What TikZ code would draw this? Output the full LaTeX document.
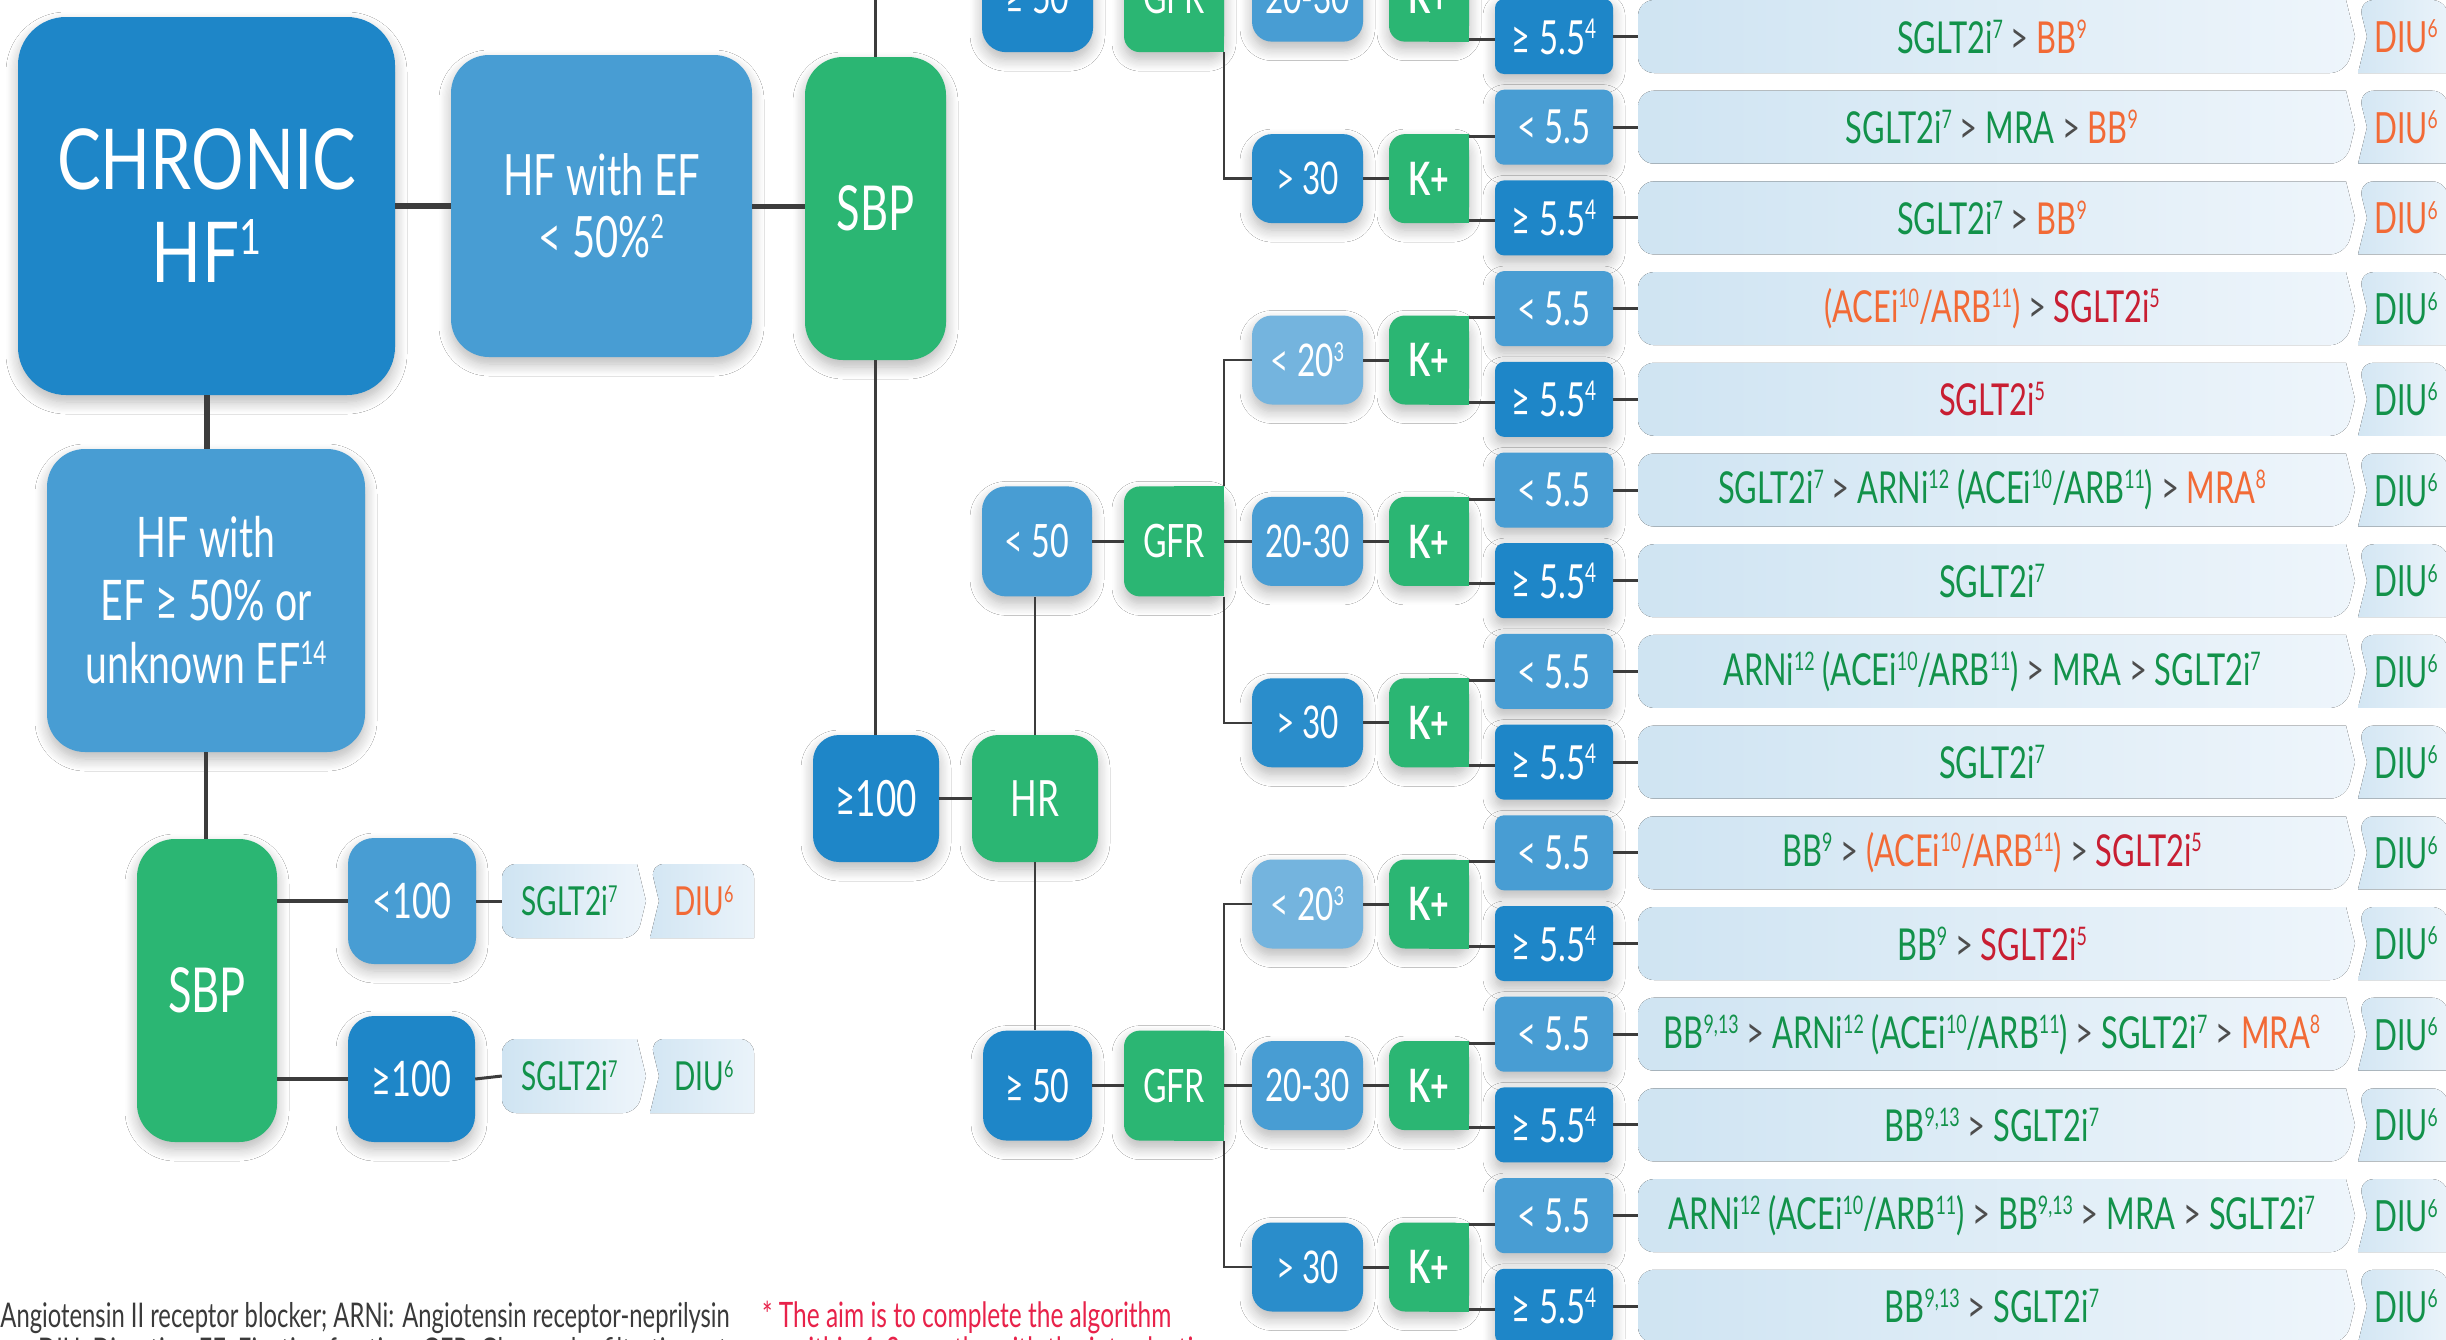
\documentclass[tikz,border=0pt]{standalone}
\usepackage{fontspec}
\usepackage{graphicx}
\setmainfont{Lato}[FakeStretch=0.7]
\newfontfamily\chronfont{Lato}[FakeStretch=0.78]
\usetikzlibrary{shadows.blur}
\definecolor{dblue}{HTML}{1E86C8}
\definecolor{mblue}{HTML}{489DD3}
\definecolor{lblue}{HTML}{74B4DE}
\definecolor{gblue}{HTML}{2A8DCB}
\definecolor{bgreen}{HTML}{2BB673}
\definecolor{tgreen}{HTML}{12924A}
\definecolor{torange}{HTML}{F26A36}
\definecolor{tred}{HTML}{C81E32}
\definecolor{tgrey}{HTML}{4D4D4D}
\definecolor{lnc}{HTML}{3C3C3C}
\definecolor{barl}{HTML}{CFE4F2}
\definecolor{barr}{HTML}{EEF5FB}
\definecolor{diul}{HTML}{D3E6F3}
\definecolor{diur}{HTML}{EAF3FA}
\definecolor{notered}{HTML}{E8224A}
\definecolor{notegrey}{HTML}{3A3A3A}
\newcommand\fsz[1]{\fontsize{#1}{#1}\selectfont}
\newcommand\sps[1]{\raisebox{0.34em}{\scalebox{0.58}{#1}}}
\newcommand\txg[1]{\textcolor{tgreen}{#1}}
\newcommand\txo[1]{\textcolor{torange}{#1}}
\newcommand\txr[1]{\textcolor{tred}{#1}}
\newcommand\gsep{\ \textcolor{tgrey}{>}\ }
\newcommand\restext[1]{\ifcase#1\or
\txg{SGLT2i\sps{7}}\gsep\txo{BB\sps{9}}\or
\txg{SGLT2i\sps{7}}\gsep\txg{MRA}\gsep\txo{BB\sps{9}}\or
\txg{SGLT2i\sps{7}}\gsep\txo{BB\sps{9}}\or
\txo{(ACEi\sps{10}/ARB\sps{11})}\gsep\txr{SGLT2i\sps{5}}\or
\txr{SGLT2i\sps{5}}\or
\txg{SGLT2i\sps{7}}\gsep\txg{ARNi\sps{12} (ACEi\sps{10}/ARB\sps{11})}\gsep\txo{MRA\sps{8}}\or
\txg{SGLT2i\sps{7}}\or
\txg{ARNi\sps{12} (ACEi\sps{10}/ARB\sps{11})}\gsep\txg{MRA}\gsep\txg{SGLT2i\sps{7}}\or
\txg{SGLT2i\sps{7}}\or
\txg{BB\sps{9}}\gsep\txo{(ACEi\sps{10}/ARB\sps{11})}\gsep\txr{SGLT2i\sps{5}}\or
\txg{BB\sps{9}}\gsep\txr{SGLT2i\sps{5}}\or
\txg{BB\sps{9,13}}\gsep\txg{ARNi\sps{12} (ACEi\sps{10}/ARB\sps{11})}\gsep\txg{SGLT2i\sps{7}}\gsep\txo{MRA\sps{8}}\or
\txg{BB\sps{9,13}}\gsep\txg{SGLT2i\sps{7}}\or
\txg{ARNi\sps{12} (ACEi\sps{10}/ARB\sps{11})}\gsep\txg{BB\sps{9,13}}\gsep\txg{MRA}\gsep\txg{SGLT2i\sps{7}}\or
\txg{BB\sps{9,13}}\gsep\txg{SGLT2i\sps{7}}\fi}
\tikzset{
 shad/.style={blur shadow={shadow blur steps=10, shadow xshift=0pt, shadow yshift=-7pt, shadow blur radius=12pt, shadow opacity=28}},
 bx/.style={rectangle, inner sep=0pt, text=white, align=center, shad},
 lbl/.style={rectangle, inner sep=0pt, text=white, align=center},
 conn/.style={draw=lnc, line width=3pt},
 vline/.style={draw=lnc, line width=2.5pt},
 heavy/.style={draw=lnc, line width=6pt},
 mid/.style={draw=lnc, line width=4pt},
}
\newcommand\boxat[7]{\node[bx,#2,minimum width={(#5)-(#3)},minimum height={(#6)-(#4)}] (#1) at ({((#3)+(#5))/2},{((#4)+(#6))/2}) {#7};}
\newcommand\lrbx[8]{%
 \node[bx,fill=#2,rounded corners=16,minimum width={(#5)-(#3)},minimum height={(#6)-(#4)}] at ({((#3)+(#5))/2},{((#4)+(#6))/2}) {};
 \fill[#2] ({((#3)+(#5))/2},{#4}) rectangle ({#5},{#6});
 \node[lbl,font=#7,minimum width={(#5)-(#3)},minimum height={(#6)-(#4)}] (#1) at ({((#3)+(#5))/2},{((#4)+(#6))/2}) {#8};}
\newcommand\cbox[4]{\node[bx,fill=#2,rounded corners=20,minimum width=111,minimum height=89,font=\fsz{45}] (#1) at (1307.5,{#3}) {#4};}
\newcommand\kbox[2]{\lrbx{#1}{bgreen}{1389}{#2-44.5}{1469}{#2+44.5}{\bfseries\fsz{46}}{K+}}
\newcommand\kconn[3]{\draw[conn] ([yshift=-2.5pt]#1.north east) -- ([yshift=-2.5pt]#1.north east -| #2.west);
 \draw[conn] ([yshift=2.5pt]#1.south east) -- ([yshift=2.5pt]#1.south east -| #3.west);}
\begin{document}
\begin{tikzpicture}[x=1pt,y=-1pt]
\useasboundingbox (0,0) rectangle (2446,1339);
\fill[white] (0,0) rectangle (2446,1339);
\clip (0,0) rectangle (2446,1339);
% result rows
\foreach \i/\y in {1/36.5,2/127.2,3/217.9,4/308.6,5/399.3,6/490.0,7/580.7,8/671.4,9/762.1,10/852.8,11/943.5,12/1034.2,13/1124.9,14/1215.6,15/1306.3}{
 \ifodd\i \def\thc{dblue}\def\tht{≥ 5.5\sps{4}}\else\def\thc{mblue}\def\tht{< 5.5}\fi
 \ifnum\i<4 \def\dc{torange}\else\def\dc{tgreen}\fi
 \fill[left color=barl,right color=barr] (2346,{\y-36.5}) [rounded corners=16] -- (1638,{\y-36.5}) -- (1638,{\y+36.5}) -- (2346,{\y+36.5}) [sharp corners] -- (2355,\y) -- cycle;
 \fill[left color=diul,right color=diur] (2448,\y) [rounded corners=16] -- (2448,{\y-36.5}) -- (2358,{\y-36.5}) [sharp corners] -- (2367,\y) -- (2358,{\y+36.5}) -- (2448,{\y+36.5}) [rounded corners=16] -- cycle;
 \node[lbl,minimum width=708,minimum height=73,font=\fsz{44}] (bar\i) at (1992,\y) {\restext{\i}};
 \node[lbl,font=\fsz{43},text=\dc] (diu\i) at (2406,\y) {DIU\sps{6}};
 \node[bx,fill=\thc,rounded corners=9,minimum width=118,minimum height=75,font=\fsz{47}] (th\i) at (1554,\y) {\tht};
 \draw[conn] (th\i.east) -- (bar\i.west);
}
% left part
\boxat{chronic}{fill=dblue,rounded corners=48,font=\chronfont\fontsize{84}{93}\selectfont}{18}{17}{395}{395}{CHRONIC\\HF\sps{1}}
\boxat{hfef}{fill=mblue,rounded corners=38,font=\fontsize{57}{62}\selectfont}{451}{55}{752}{357}{HF with EF\\< 50\%\sps{2}}
\boxat{sbpA}{fill=bgreen,rounded corners=38,font=\fsz{62}}{805}{57}{946}{360}{SBP}
\boxat{hfpef}{fill=mblue,rounded corners=38,font=\fontsize{56}{63}\selectfont}{47}{449}{365}{752}{HF with\\EF ≥ 50\% or\\unknown EF\sps{14}}
\boxat{sbpB}{fill=bgreen,rounded corners=38,font=\fsz{62}}{137}{839}{277}{1142}{SBP}
\boxat{ltH}{fill=mblue,rounded corners=26,font=\fsz{49}}{348}{838}{476}{964}{<100}
\boxat{geH}{fill=dblue,rounded corners=26,font=\fsz{49}}{348}{1016}{475}{1142}{≥100}
% small result bars
\fill[left color=barl,right color=barr] (637,864) [rounded corners=14] -- (502,864) -- (502,938) -- (637,938) [sharp corners] -- (646,901) -- cycle;
\fill[left color=diul,right color=diur] (754,901) [rounded corners=14] -- (754,864) -- (650,864) [sharp corners] -- (659,901) -- (650,938) -- (754,938) [rounded corners=14] -- cycle;
\node[lbl,minimum width=135,minimum height=74,font=\fsz{40}] (sa) at (569.5,901) {\txg{SGLT2i\sps{7}}};
\node[lbl,font=\fsz{40}] (da) at (704,901) {\txo{DIU\sps{6}}};
\fill[left color=barl,right color=barr] (637,1039) [rounded corners=14] -- (502,1039) -- (502,1113) -- (637,1113) [sharp corners] -- (646,1076) -- cycle;
\fill[left color=diul,right color=diur] (754,1076) [rounded corners=14] -- (754,1039) -- (650,1039) [sharp corners] -- (659,1076) -- (650,1113) -- (754,1113) [rounded corners=14] -- cycle;
\node[lbl,minimum width=135,minimum height=74,font=\fsz{40}] (sb) at (569.5,1076) {\txg{SGLT2i\sps{7}}};
\node[lbl,font=\fsz{40}] (db) at (704,1076) {\txg{DIU\sps{6}}};
% middle
\boxat{geM}{fill=dblue,rounded corners=26,font=\fsz{50}}{813}{735}{939}{862}{≥100}
\boxat{hr}{fill=bgreen,rounded corners=26,font=\fsz{50}}{972}{735}{1098}{862}{HR}
\boxat{ltF}{fill=mblue,rounded corners=24,font=\fsz{46}}{982}{486.4}{1092}{596.4}{< 50}
\boxat{geFb}{fill=dblue,rounded corners=24,font=\fsz{46}}{983}{1030.6}{1092}{1140.6}{≥ 50}
\boxat{geFt}{fill=dblue,rounded corners=24,font=\fsz{46}}{982}{-57.85}{1093}{52.15}{≥ 50}
\lrbx{gfrT}{bgreen}{1124}{-57.85}{1224}{52.15}{\fsz{46}}{GFR}
\lrbx{gfrM}{bgreen}{1124}{486.4}{1224}{596.4}{\fsz{46}}{GFR}
\lrbx{gfrL}{bgreen}{1124}{1030.6}{1224}{1140.6}{\fsz{46}}{GFR}
% groups
\cbox{cTa}{mblue}{-2.85}{20-30}
\cbox{cTb}{gblue}{178.6}{> 30}
\kbox{kTa}{-2.85}
\kbox{kTb}{178.6}
\cbox{cMa}{lblue}{360}{< 20\sps{3}}
\cbox{cMb}{mblue}{541.4}{20-30}
\cbox{cMc}{gblue}{722.8}{> 30}
\kbox{kMa}{360}
\kbox{kMb}{541.4}
\kbox{kMc}{722.8}
\cbox{cLa}{lblue}{904}{< 20\sps{3}}
\cbox{cLb}{mblue}{1085.6}{20-30}
\cbox{cLc}{gblue}{1267}{> 30}
\kbox{kLa}{904}
\kbox{kLb}{1085.6}
\kbox{kLc}{1267}
% connectors
\draw[heavy] (chronic.east) -- (hfef.west);
\draw[draw=lnc,line width=5pt] (hfef.east) -- (hfef.east -| sbpA.west);
\draw[heavy] (chronic.south) -- (chronic.south |- hfpef.north);
\draw[mid] (hfpef.south) -- (hfpef.south |- sbpB.north);
\draw[mid] (ltH.west -| sbpB.east) -- (ltH.west);
\draw[mid] (geH.west -| sbpB.east) -- (geH.west);
\draw[conn] (ltH.east) -- (sa.west);
\draw[conn] (geH.east) -- (sb.west);
\coordinate (topA) at (875.5,-10);
\draw[vline] (sbpA.north) -- (topA);
\draw[vline] (sbpA.south) -- (sbpA.south |- geM.north);
\draw[conn] (geM.east) -- (hr.west);
\draw[vline] (hr.north) -- (hr.north |- ltF.south);
\draw[vline] (hr.south) -- (hr.south |- geFb.north);
\draw[conn] (ltF.east) -- (gfrM.west);
\draw[conn] (geFb.east) -- (gfrL.west);
\draw[conn] (geFt.east) -- (gfrT.west);
% GFR branches
\draw[conn] (gfrT.east) -- (cTa.west);
\draw[vline] (gfrT.south east) |- (cTb.west);
\draw[vline] (cMa.west) -| (gfrM.north east);
\draw[conn] (gfrM.east) -- (cMb.west);
\draw[vline] (gfrM.south east) |- (cMc.west);
\draw[vline] (cLa.west) -| (gfrL.north east);
\draw[conn] (gfrL.east) -- (cLb.west);
\draw[vline] (gfrL.south east) |- (cLc.west);
\draw[conn] (cTa.east) -- (kTa.west);
\draw[conn] (cTb.east) -- (kTb.west);
\draw[conn] (cMa.east) -- (kMa.west);
\draw[conn] (cMb.east) -- (kMb.west);
\draw[conn] (cMc.east) -- (kMc.west);
\draw[conn] (cLa.east) -- (kLa.west);
\draw[conn] (cLb.east) -- (kLb.west);
\draw[conn] (cLc.east) -- (kLc.west);
\draw[conn] ([yshift=2.5pt]kTa.south east) -- ([yshift=2.5pt]kTa.south east -| th1.west);
\kconn{kTb}{th2}{th3}
\kconn{kMa}{th4}{th5}
\kconn{kMb}{th6}{th7}
\kconn{kMc}{th8}{th9}
\kconn{kLa}{th10}{th11}
\kconn{kLb}{th12}{th13}
\kconn{kLc}{th14}{th15}
% footnotes
\node[anchor=base east,inner sep=0,text=notegrey,font=\fsz{34}] (fn1) at (730,1327) {Angiotensin II receptor blocker; ARNi: Angiotensin receptor-neprilysin};
\node[anchor=base west,inner sep=0,text=notegrey,font=\fsz{34}] (fn2) at (38,1362) {DIU: Diuretics; EF: Ejection fraction; GFR: Glomerular filtration rate};
\node[anchor=base west,inner sep=0,text=notered,font=\fsz{35}] (nt1) at (762,1327) {* The aim is to complete the algorithm};
\node[anchor=base west,inner sep=0,text=notered,font=\fsz{35}] (nt2) at (789,1362) {within 1-3 months with the introduction};
\end{tikzpicture}
\end{document}
